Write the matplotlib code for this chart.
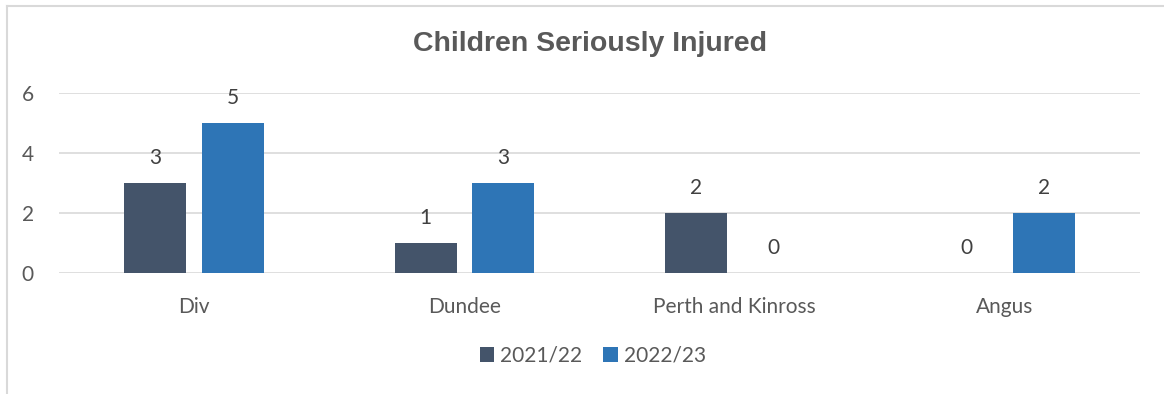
import matplotlib.pyplot as plt
from matplotlib.lines import Line2D
import numpy as np

categories = ['Div', 'Dundee', 'Perth and Kinross', 'Angus']
series_names = ['2021/22', '2022/23']
values_2122 = [3, 1, 2, 0]
values_2223 = [5, 3, 0, 2]
yticks = [0, 2, 4, 6]

colors = ['#44546A', '#2E75B6']
grey = '#595959'
font = 'Lato'

fig = plt.figure(figsize=(11.64, 3.94), dpi=100)
ax = fig.add_axes([59 / 1164, (394 - 273) / 394, (1140 - 59) / 1164, 180 / 394])

x = np.arange(len(categories))
w = 0.23
off = 0.1435
for vals, sign, col, name in [(values_2122, -1, colors[0], series_names[0]),
                              (values_2223, 1, colors[1], series_names[1])]:
    bars = ax.bar(x + sign * off, vals, w, color=col, label=name, zorder=3)
    for b, v in zip(bars, vals):
        ax.text(b.get_x() + b.get_width() / 2, v + 0.82, str(v), ha='center', va='center',
                fontsize=15, color='#404040', family=font)

ax.set_xlim(-0.5, 3.5)
ax.set_ylim(0, 6)
ax.set_yticks(yticks)
ax.set_xticks(x)
ax.set_xticklabels(categories)
ax.grid(axis='y', color='#D9D9D9', linewidth=1.2, zorder=0)
for s in ax.spines.values():
    s.set_visible(False)
ax.tick_params(length=0, labelsize=15, labelcolor=grey)
ax.tick_params(axis='y', pad=18)
ax.tick_params(axis='x', pad=17)
for lab in ax.get_xticklabels() + ax.get_yticklabels():
    lab.set_family(font)

fig.text(590 / 1164, 1 - 44 / 394, 'Children Seriously Injured', ha='center', va='center',
         fontsize=20.5, fontweight='bold', color=grey, family='Liberation Sans')

leg = fig.legend(loc='center', bbox_to_anchor=(593 / 1164, 1 - 356 / 394), ncol=2, frameon=False,
                 handlelength=0.7, handleheight=0.7, handletextpad=0.3, columnspacing=1.0,
                 prop={'family': font, 'size': 15})
for t in leg.get_texts():
    t.set_color(grey)

# chart border (left and top edges visible)
fig.add_artist(Line2D([7 / 1164, 7 / 1164], [0, 1 - 6 / 394], transform=fig.transFigure,
                      color='#D9D9D9', linewidth=1.5))
fig.add_artist(Line2D([7 / 1164, 1], [1 - 6 / 394, 1 - 6 / 394], transform=fig.transFigure,
                      color='#D9D9D9', linewidth=1.5))

fig.savefig('out.png', dpi=100)
